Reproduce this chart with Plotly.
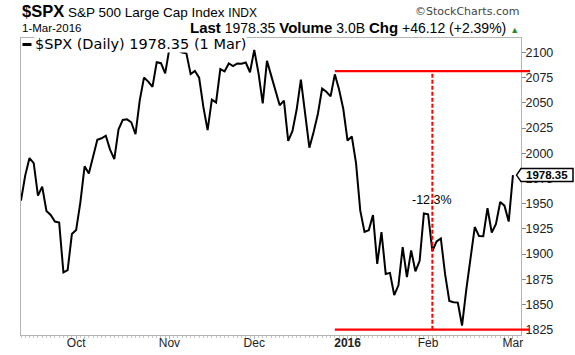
import pandas as pd
import plotly.graph_objects as go

# ---------------- data ----------------
start_date = "2015-09-14"
end_date = "2016-03-01"
market_holidays = ["2015-11-26", "2015-12-25", "2016-01-01", "2016-01-18", "2016-02-15"]

closes = [
    1953.03, 1978.09, 1995.31, 1990.20, 1958.03, 1966.97, 1942.74, 1938.76, 1932.24, 1931.34,
    1881.77, 1884.09, 1920.03,
    1923.82, 1951.36, 1987.05, 1979.92, 1995.83, 2013.43, 2014.89, 2017.46, 2003.69, 1994.24,
    2023.86, 2033.11, 2033.66, 2030.77, 2018.94, 2052.51, 2075.15, 2071.18, 2065.89, 2090.35,
    2089.41, 2079.36,
    2104.05, 2109.79, 2102.31, 2099.93, 2099.20, 2078.58, 2081.72, 2075.00, 2045.97, 2023.04,
    2053.19, 2050.44, 2083.58, 2081.24, 2089.17, 2086.59, 2089.14, 2088.87, 2090.11, 2080.41,
    2102.63, 2079.51, 2049.62, 2091.69, 2077.07, 2063.59, 2047.62, 2052.23, 2012.37, 2021.94,
    2043.41, 2073.07, 2041.89, 2005.55, 2021.15, 2038.97, 2064.29, 2060.99, 2056.50, 2078.36,
    2063.36, 2043.94,
    2012.66, 2016.71, 1990.26, 1943.09, 1922.03, 1923.67, 1938.68, 1890.28, 1921.84, 1880.33,
    1881.33, 1859.33, 1868.99, 1906.90, 1877.08, 1903.63, 1882.95, 1893.36, 1940.24,
    1939.38, 1903.03, 1912.53, 1915.45, 1880.05, 1853.44, 1852.21, 1851.86, 1829.08, 1864.78,
    1895.58, 1926.82, 1917.83, 1917.78, 1945.50, 1921.27, 1929.80, 1951.70, 1948.05, 1932.23,
    1978.35,
]

month_tick_dates = ["2015-10-01", "2015-11-02", "2015-12-01", "2016-01-04", "2016-02-01", "2016-03-01"]
month_tick_text = ["Oct", "Nov", "Dec", "<b>2016</b>", "Feb", "Mar"]

measure_high = 2081.5
measure_low = 1825.0
measure_start_date = "2015-12-29"
measure_line_date = "2016-02-02"

volume_text = "3.0B"
y_ticks = list(range(1825, 2101, 25))

# ---------------- derived ----------------
dates = pd.bdate_range(start_date, end_date, freq="C", holidays=market_holidays)
dates = [d.strftime("%Y-%m-%d") for d in dates][:len(closes)]
idx = list(range(len(closes)))
tick_idx = [dates.index(d) for d in month_tick_dates]
i_start = dates.index(measure_start_date)
i_mid = dates.index(measure_line_date)
last_ts = pd.Timestamp(dates[-1])

last = closes[-1]
chg = closes[-1] - closes[-2]
chg_pct = chg / closes[-2] * 100
meas_pct = (measure_low / measure_high - 1) * 100

# layout geometry
WIDTH, HEIGHT = 575, 355
ML, MR, MT, MB = 21, 54, 38, 20
PW = WIDTH - ML - MR
PH = HEIGHT - MT - MB
xr = [0, 117.9]
yr = [1819.7, 2114.4]


def px(xpix):
    return (xpix - ML) / PW


def py(ypix):
    return (HEIGHT - MB - ypix) / PH


def xp(i):
    return (i - xr[0]) / (xr[1] - xr[0])


def yp(v):
    return (v - yr[0]) / (yr[1] - yr[0])


RED = "#ff0000"
AX = "#b4b4b4"
ARIAL = "Liberation Sans, Arial, sans-serif"
VERD = "DejaVu Sans, Verdana, sans-serif"

fig = go.Figure()
fig.add_trace(go.Scatter(
    x=idx, y=closes, mode="lines",
    line=dict(color="black", width=2),
    hoverinfo="skip", showlegend=False,
))

shapes = []
ext = 1 + 9 / PW
for v in (measure_high, measure_low):
    shapes.append(dict(type="line", xref="paper", yref="paper",
                       x0=xp(i_start), x1=ext, y0=yp(v), y1=yp(v),
                       line=dict(color=RED, width=2.2)))
shapes.append(dict(type="line", xref="x", yref="y",
                   x0=i_mid, x1=i_mid, y0=measure_low, y1=measure_high,
                   line=dict(color=RED, width=2, dash="4px,2px")))
# price tag
yc = yp(last)
hh = 6.5 / PH
tip = px(516.5)
bl = px(521)
br = px(573)
shapes.append(dict(type="path", xref="paper", yref="paper",
                   path=f"M {tip} {yc} L {bl} {yc+hh} L {br} {yc+hh} L {br} {yc-hh} L {bl} {yc-hh} Z",
                   fillcolor="white", line=dict(color="black", width=1.5)))
# legend swatch
shapes.append(dict(type="line", xref="paper", yref="paper",
                   x0=px(22.5), x1=px(31.5), y0=py(44.5), y1=py(44.5),
                   line=dict(color="black", width=3)))

annotations = [
    dict(xref="paper", yref="paper", x=px(20), y=py(11), xanchor="left", yanchor="middle",
         showarrow=False, font=dict(family=ARIAL, size=13.5, color="black"),
         text="<b><span style='font-size:16.5px'>$SPX</span></b> S&amp;P 500 Large Cap Index "
              "<span style='font-size:12px'>INDX</span>"),
    dict(xref="paper", yref="paper", x=1.0, y=py(11.5), xanchor="right", yanchor="middle",
         showarrow=False, font=dict(family=VERD, size=11, color="#444"),
         text="©StockCharts.com"),
    dict(xref="paper", yref="paper", x=px(20), y=py(28), xanchor="left", yanchor="middle",
         showarrow=False, font=dict(family=ARIAL, size=11.5, color="black"),
         text=last_ts.strftime("%-d-%b-%Y")),
    dict(xref="paper", yref="paper", x=1.0, y=py(28), xanchor="right", yanchor="middle",
         showarrow=False, font=dict(family=ARIAL, size=14, color="black"),
         text=(f"<b><span style='font-size:15px'>Last</span></b> {last:.2f} "
               f"<b><span style='font-size:15px'>Volume</span></b> {volume_text} "
               f"<b><span style='font-size:15px'>Chg</span></b> {chg:+.2f} ({chg_pct:+.2f}%) "
               f"<span style='font-size:9px;color:#2a8a2a'>▲</span>")),
    dict(xref="paper", yref="paper", x=px(34), y=py(44.5), xanchor="left", yanchor="middle",
         showarrow=False, font=dict(family=VERD, size=14.5, color="black"),
         bgcolor="white", borderpad=0,
         text=f"$SPX (Daily) {last:.2f} ({last_ts.day} {last_ts.strftime('%b')})"),
    dict(xref="x", yref="y", x=i_mid, y=(measure_high + measure_low) / 2,
         xanchor="center", yanchor="middle", showarrow=False,
         font=dict(family=ARIAL, size=12.5, color="black"),
         text=f"{meas_pct:.1f}%"),
    dict(xref="paper", yref="paper", x=(bl + br) / 2, y=yc, xanchor="center", yanchor="middle",
         showarrow=False, font=dict(family=ARIAL, size=11.5, color="black"),
         text=f"<b>{last:.2f}</b>"),
]

fig.update_layout(
    width=WIDTH, height=HEIGHT,
    margin=dict(l=ML, r=MR, t=MT, b=MB, pad=0, autoexpand=False),
    paper_bgcolor="white", plot_bgcolor="white",
    showlegend=False,
    shapes=shapes,
    annotations=annotations,
    xaxis=dict(
        range=xr, showgrid=False, zeroline=False, automargin=False,
        showline=True, linecolor=AX, linewidth=1, mirror=True,
        tickmode="array", tickvals=tick_idx, ticktext=month_tick_text,
        ticks="outside", ticklen=3, tickcolor=AX, ticklabelstandoff=-6,
        tickfont=dict(family=ARIAL, size=12, color="#222"),
        minor=dict(dtick=1, tick0=0, ticks="outside", ticklen=2, tickcolor="#c8c8c8"),
    ),
    yaxis=dict(
        range=yr, side="right", showgrid=False, zeroline=False, automargin=False,
        showline=True, linecolor=AX, linewidth=1, mirror=True,
        tickmode="array", tickvals=y_ticks,
        ticks="outside", ticklen=4, tickcolor="#888", ticklabelstandoff=-3,
        tickfont=dict(family=ARIAL, size=12.5, color="#222"),
    ),
)

fig.write_html("out.html", config={"displayModeBar": False},
               post_script="document.body.style.margin='0';")
